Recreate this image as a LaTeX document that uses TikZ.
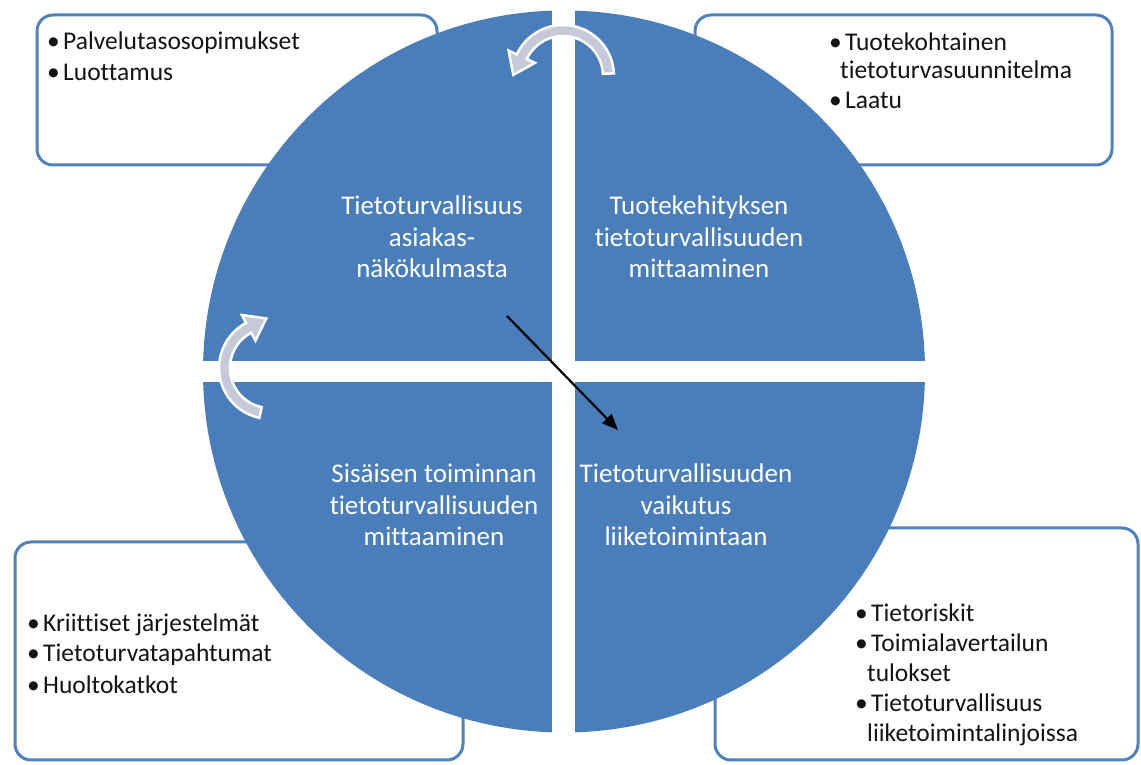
\documentclass[tikz,border=0pt]{standalone}
\usepackage{fontspec}
\setmainfont{Carlito}[Ligatures=NoCommon]
\usetikzlibrary{arrows.meta}
\definecolor{pieblue}{RGB}{74,126,187}
\definecolor{frameblue}{RGB}{79,129,189}
\definecolor{arcgray}{RGB}{198,202,216}
\definecolor{itemtext}{RGB}{20,20,20}
\newcommand{\bul}{\makebox[16pt][l]{\textbullet}}
\begin{document}
\begin{tikzpicture}[x=1pt,y=1pt,
  infobox/.style={draw=frameblue, line width=3pt, rounded corners=16pt, fill=white, inner sep=0pt},
  item/.style={anchor=base west, inner sep=0pt, font=\fontsize{25.5}{30}\selectfont, text=itemtext},
  quadlabel/.style={align=center, text=white, font=\fontsize{27}{31.5}\selectfont, inner sep=0pt},
  turnarrow/.style={fill=arcgray, draw=white, line width=2.5pt, line join=miter},
  pointer/.style={draw=black, line width=2.2pt, -{Triangle[length=16pt,width=13pt]}}
]
\useasboundingbox (0,0) rectangle (1141,765);

% framed boxes behind the disc
\node[infobox, minimum width=400pt, minimum height=150pt] (boxTL) at (237,675) {};
\node[infobox, minimum width=417pt, minimum height=150pt] (boxTR) at (903.5,675) {};
\node[infobox, minimum width=448pt, minimum height=218pt] (boxBL) at (239,114) {};
\node[infobox, minimum width=423pt, minimum height=232pt] (boxBR) at (926.5,121) {};

% disc split into four quarters by a white cross
\coordinate (hub) at (564,393.5);
\fill[pieblue] (hub) circle[radius=361pt];
\begin{scope}
  \clip (hub) circle[radius=363pt];
  \fill[white] (552,0) rectangle (575,765);
  \fill[white] (0,383) rectangle (1141,404);
\end{scope}

% quarter titles
\node[quadlabel] (qTL) at (432,528) {Tietoturvallisuus\\asiakas-\\näkökulmasta};
\node[quadlabel] (qTR) at (699,528) {Tuotekehityksen\\tietoturvallisuuden\\mittaaminen};
\node[quadlabel] (qBL) at (434,260) {Sisäisen toiminnan\\tietoturvallisuuden\\mittaaminen};
\node[quadlabel] (qBR) at (686,260) {Tietoturvallisuuden\\vaikutus\\liiketoimintaan};

% bullet lists
\node[item] (tl1) at (47,715) {\bul Palvelutasosopimukset};
\node[item] (tl2) at (47,684) {\bul Luottamus};

\node[item] (tr1) at (829,714) {\bul Tuotekohtainen};
\node[item] (tr2) at (840,686) {tietoturvasuunnitelma};
\node[item] (tr3) at (829,656) {\bul Laatu};

\node[item] (bl1) at (27,133) {\bul Kriittiset järjestelmät};
\node[item] (bl2) at (27,103) {\bul Tietoturvatapahtumat};
\node[item] (bl3) at (27,71) {\bul Huoltokatkot};

\node[item] (br1) at (855,143) {\bul Tietoriskit};
\node[item] (br2) at (855,113) {\bul Toimialavertailun};
\node[item] (br3) at (867,83) {tulokset};
\node[item] (br4) at (855,53) {\bul Tietoturvallisuus};
\node[item] (br5) at (867,23) {liiketoimintalinjoissa};

% curved cycle arrows
\begin{scope}[shift={(563,689)}]
  \filldraw[turnarrow] (3:40) arc[start angle=3, end angle=155, radius=40]
    -- (155:31) -- ([shift={(155:45.5)}]245:20) -- (155:60) -- (155:51)
    arc[start angle=155, end angle=3, radius=51] -- cycle;
\end{scope}
\begin{scope}[shift={(270,397)}]
  \filldraw[turnarrow] (258:40) arc[start angle=258, end angle=118, radius=40]
    -- (118:31) -- ([shift={(118:45.5)}]28:20) -- (118:60) -- (118:51)
    arc[start angle=118, end angle=258, radius=51] -- cycle;
\end{scope}

% diagonal pointer
\coordinate (pstart) at (507,449);
\coordinate (pend) at (618,335);
\draw[pointer] (pstart) -- (pend);
\end{tikzpicture}
\end{document}
